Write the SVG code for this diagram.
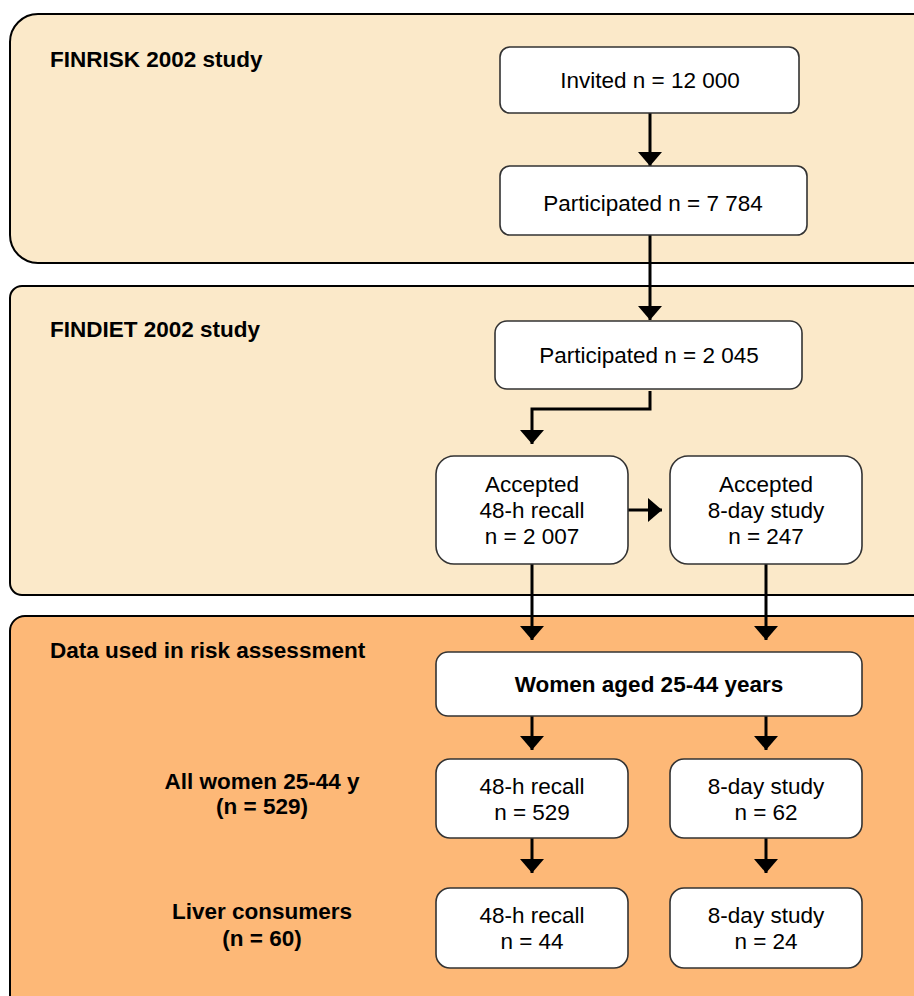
<svg xmlns="http://www.w3.org/2000/svg" width="914" height="996" viewBox="0 0 914 996">
<style>
.panel{stroke:#000;stroke-width:2}
.p1{fill:#FBE9C9}
.p3{fill:#FDB877}
.node{fill:#fff;stroke:#333;stroke-width:1.6}
text{font-family:"Liberation Sans",Arial,Helvetica,sans-serif;font-size:22.5px;fill:#000}
.c{text-anchor:middle}
.b{font-weight:bold}
.conn{fill:none;stroke:#000;stroke-width:3}
</style>
<defs>
<marker id="ah" viewBox="0 0 14 24" refX="14" refY="12" markerWidth="14" markerHeight="24" markerUnits="userSpaceOnUse" orient="auto">
<path d="M0,0 L14,12 L0,24 Z" fill="#000"/>
</marker>
</defs>
<g id="panel-finrisk">
<rect class="panel p1" x="10" y="14" width="930" height="249" rx="28"/>
<text class="b" x="50" y="67">FINRISK 2002 study</text>
</g>
<g id="panel-findiet">
<rect class="panel p1" x="10" y="286" width="930" height="309" rx="12"/>
<text class="b" x="50" y="337">FINDIET 2002 study</text>
</g>
<g id="panel-data">
<rect class="panel p3" x="10" y="616" width="930" height="400" rx="15"/>
<text class="b" x="50" y="658">Data used in risk assessment</text>
<text class="b c" x="262" y="789">All women 25-44 y</text>
<text class="b c" x="262" y="814">(n = 529)</text>
<text class="b c" x="262" y="919">Liver consumers</text>
<text class="b c" x="262" y="946">(n = 60)</text>
</g>
<g id="connectors">
<line class="conn" x1="650" y1="113" x2="650" y2="166" marker-end="url(#ah)"/>
<line class="conn" x1="650" y1="235" x2="650" y2="320" marker-end="url(#ah)"/>
<polyline class="conn" points="650,391 650,409 532,409 532,444" marker-end="url(#ah)"/>
<line class="conn" x1="628" y1="510" x2="662" y2="510" marker-end="url(#ah)"/>
<line class="conn" x1="532" y1="564" x2="532" y2="640" marker-end="url(#ah)"/>
<line class="conn" x1="766" y1="564" x2="766" y2="640" marker-end="url(#ah)"/>
<line class="conn" x1="532" y1="716" x2="532" y2="750" marker-end="url(#ah)"/>
<line class="conn" x1="766" y1="716" x2="766" y2="750" marker-end="url(#ah)"/>
<line class="conn" x1="532" y1="838" x2="532" y2="873" marker-end="url(#ah)"/>
<line class="conn" x1="766" y1="838" x2="766" y2="873" marker-end="url(#ah)"/>
</g>
<g id="invited">
<rect class="node" x="500" y="47" width="299" height="66" rx="10"/>
<text class="c" x="650" y="88">Invited n = 12 000</text>
</g>
<g id="participated-finrisk">
<rect class="node" x="500" y="166" width="307" height="69" rx="10"/>
<text class="c" x="653" y="211">Participated n = 7 784</text>
</g>
<g id="participated-findiet">
<rect class="node" x="495" y="321" width="307" height="68" rx="12"/>
<text class="c" x="649" y="363">Participated n = 2 045</text>
</g>
<g id="accepted-48h">
<rect class="node" x="436" y="456" width="192" height="108" rx="18"/>
<text class="c" x="532" y="492">Accepted</text>
<text class="c" x="532" y="518">48-h recall</text>
<text class="c" x="532" y="544">n = 2 007</text>
</g>
<g id="accepted-8day">
<rect class="node" x="670" y="456" width="192" height="108" rx="18"/>
<text class="c" x="766" y="492">Accepted</text>
<text class="c" x="766" y="518">8-day study</text>
<text class="c" x="766" y="544">n = 247</text>
</g>
<g id="women">
<rect class="node" x="436" y="652" width="426" height="64" rx="12"/>
<text class="c b" x="649" y="692">Women aged 25-44 years</text>
</g>
<g id="recall-529">
<rect class="node" x="436" y="759" width="192" height="79" rx="14"/>
<text class="c" x="532" y="794">48-h recall</text>
<text class="c" x="532" y="820">n = 529</text>
</g>
<g id="study-62">
<rect class="node" x="670" y="759" width="192" height="79" rx="14"/>
<text class="c" x="766" y="794">8-day study</text>
<text class="c" x="766" y="820">n = 62</text>
</g>
<g id="recall-44">
<rect class="node" x="436" y="888" width="192" height="80" rx="14"/>
<text class="c" x="532" y="923">48-h recall</text>
<text class="c" x="532" y="949">n = 44</text>
</g>
<g id="study-24">
<rect class="node" x="670" y="888" width="192" height="80" rx="14"/>
<text class="c" x="766" y="923">8-day study</text>
<text class="c" x="766" y="949">n = 24</text>
</g>
</svg>
